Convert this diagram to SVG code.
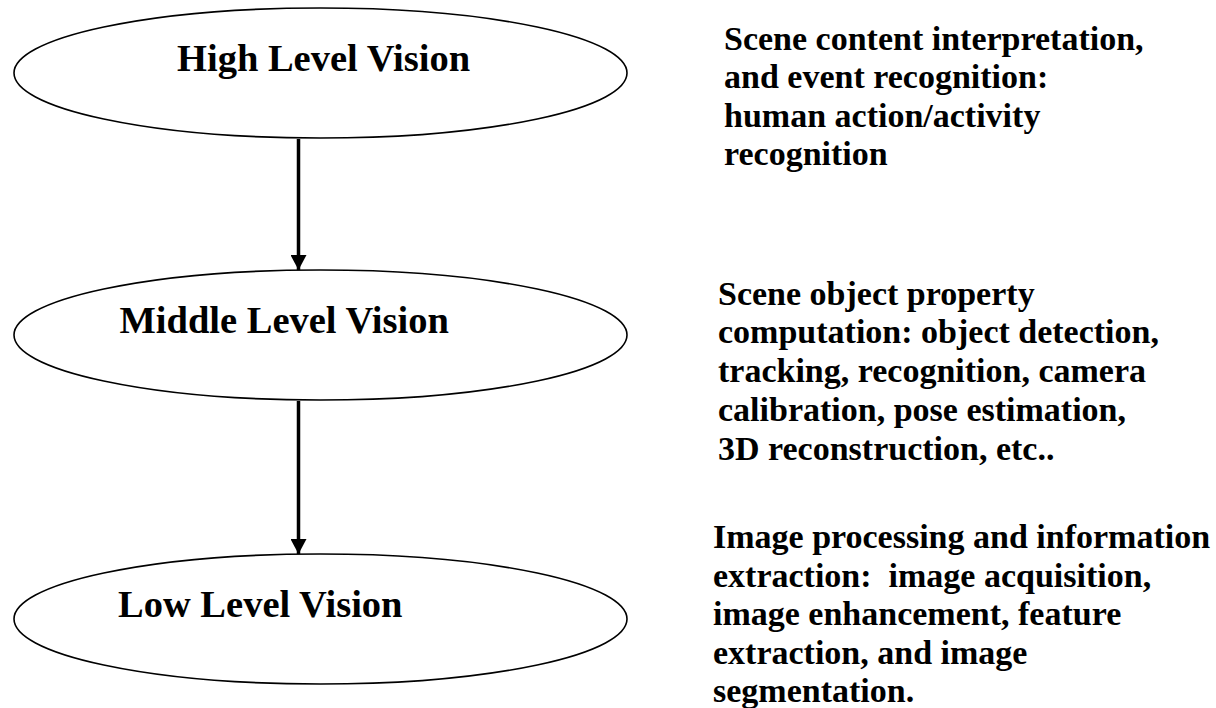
<svg xmlns="http://www.w3.org/2000/svg" width="1216" height="708" viewBox="0 0 1216 708">
<defs>
<style>
.node ellipse{fill:#fff;stroke:#000;stroke-width:1.6}
.lbl{font-family:"Liberation Serif","Times New Roman",serif;font-weight:bold;font-size:38.5px;fill:#000}
.desc{font-family:"Liberation Serif","Times New Roman",serif;font-weight:bold;font-size:34px;fill:#000}
.conn line{stroke:#000;stroke-width:3.5}
</style>
<marker id="ah" viewBox="0 0 15 16" refX="15" refY="8" markerWidth="15" markerHeight="16" markerUnits="userSpaceOnUse" orient="auto">
<path d="M0,0 L15,8 L0,16 Z" fill="#000"/>
</marker>
</defs>
<rect width="1216" height="708" fill="#fff"/>
<g id="connectors" class="conn">
<line x1="298.5" y1="139" x2="298.5" y2="270" marker-end="url(#ah)"/>
<line x1="298.5" y1="401" x2="298.5" y2="554" marker-end="url(#ah)"/>
</g>
<g id="node-high" class="node">
<ellipse cx="320.5" cy="73" rx="306.5" ry="65"/>
<text class="lbl" x="177" y="71">High Level Vision</text>
</g>
<g id="node-middle" class="node">
<ellipse cx="320.5" cy="335" rx="306.5" ry="65"/>
<text class="lbl" x="119.5" y="333">Middle Level Vision</text>
</g>
<g id="node-low" class="node">
<ellipse cx="320.5" cy="619" rx="306.5" ry="65"/>
<text class="lbl" x="118" y="617">Low Level Vision</text>
</g>
<g id="desc-high">
<text class="desc" x="724" y="50">Scene content interpretation,</text>
<text class="desc" x="724" y="88">and event recognition:</text>
<text class="desc" x="724" y="127">human action/activity</text>
<text class="desc" x="724" y="165">recognition</text>
</g>
<g id="desc-middle">
<text class="desc" x="718" y="305">Scene object property</text>
<text class="desc" x="718" y="343">computation: object detection,</text>
<text class="desc" x="718" y="382">tracking, recognition, camera</text>
<text class="desc" x="718" y="421">calibration, pose estimation,</text>
<text class="desc" x="718" y="460">3D reconstruction, etc..</text>
</g>
<g id="desc-low">
<text class="desc" x="713" y="548">Image processing and information</text>
<text class="desc" x="713" y="587" xml:space="preserve">extraction:  image acquisition,</text>
<text class="desc" x="713" y="625">image enhancement, feature</text>
<text class="desc" x="713" y="664">extraction, and image</text>
<text class="desc" x="713" y="702">segmentation.</text>
</g>
</svg>
